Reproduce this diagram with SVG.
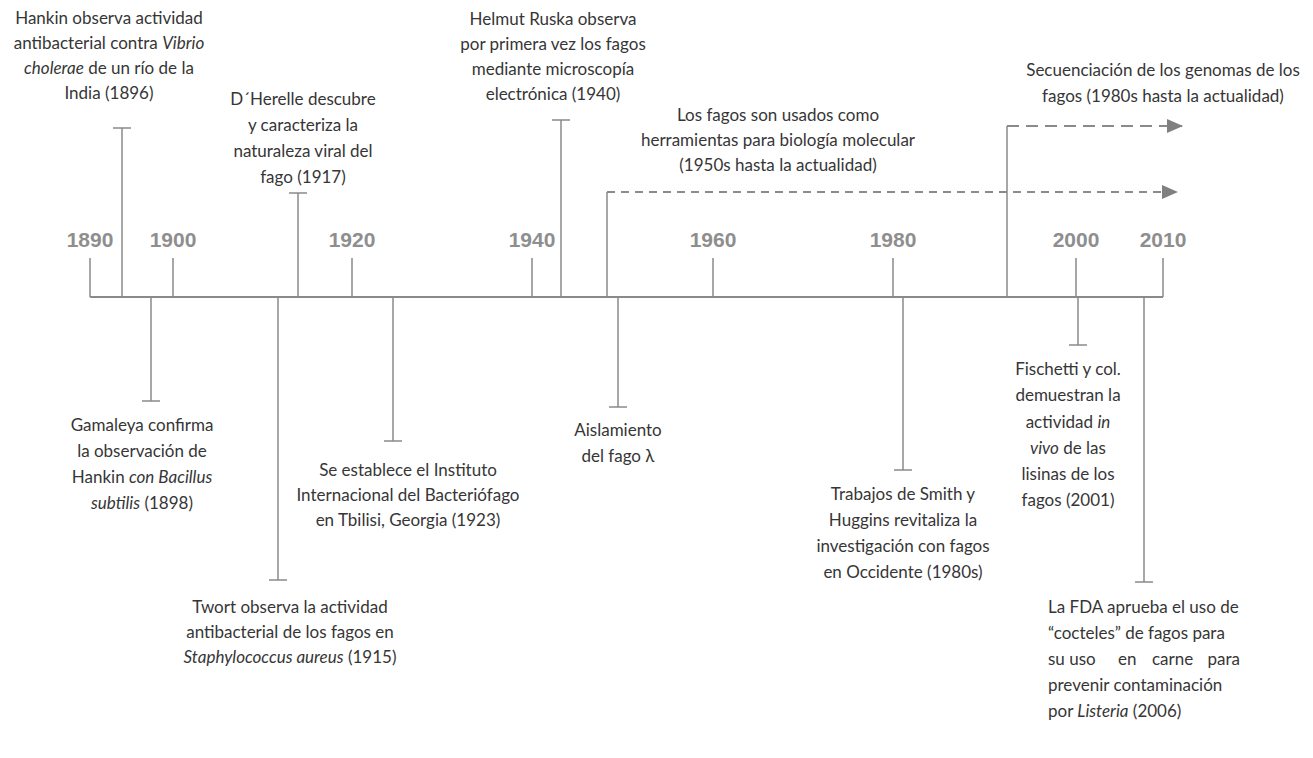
<svg xmlns="http://www.w3.org/2000/svg" width="1313" height="758" viewBox="0 0 1313 758">
<style>
  .t{font-family:Lato,"Open Sans","Liberation Sans",sans-serif;font-size:17px;fill:#363636;text-anchor:middle}
  .l{text-anchor:start}
  .e{text-anchor:end}
  .i{font-style:italic}
  .yr{font-family:"Liberation Sans",Arial,sans-serif;font-size:21px;font-weight:bold;fill:#8e8e8e;text-anchor:middle}
  .ln{stroke:#8a8a8a;stroke-width:1.5;fill:none}
  .ax{stroke:#8a8a8a;stroke-width:2;fill:none}
  .d1{stroke:#8a8a8a;stroke-width:2;fill:none;stroke-dasharray:12 7}
  .d2{stroke:#8a8a8a;stroke-width:2;fill:none;stroke-dasharray:8 6}
</style>
<defs>
  <marker id="arr" markerWidth="16" markerHeight="14" refX="15" refY="7" orient="auto" markerUnits="userSpaceOnUse" viewBox="0 0 16 14">
    <path d="M0,0 L16,7 L0,14 z" fill="#808080"/>
  </marker>
</defs>
<rect width="1313" height="758" fill="#ffffff"/>

<g id="axis">
  <line class="ax" x1="90" y1="297" x2="1163" y2="297"/>
  <g class="ln">
    <line x1="90" y1="258" x2="90" y2="297"/>
    <line x1="173" y1="258" x2="173" y2="297"/>
    <line x1="352" y1="258" x2="352" y2="297"/>
    <line x1="532" y1="258" x2="532" y2="297"/>
    <line x1="713" y1="258" x2="713" y2="297"/>
    <line x1="893" y1="258" x2="893" y2="297"/>
    <line x1="1076" y1="258" x2="1076" y2="297"/>
    <line x1="1163" y1="258" x2="1163" y2="297"/>
  </g>
  <text class="yr" x="90" y="247">1890</text>
  <text class="yr" x="173" y="247">1900</text>
  <text class="yr" x="352" y="247">1920</text>
  <text class="yr" x="532" y="247">1940</text>
  <text class="yr" x="713" y="247">1960</text>
  <text class="yr" x="893" y="247">1980</text>
  <text class="yr" x="1076" y="247">2000</text>
  <text class="yr" x="1163" y="247">2010</text>
</g>

<g id="connectors" class="ln">
  <path d="M122,297 V128 M113,128 H131"/>
  <path d="M298,297 V193 M289,193 H307"/>
  <path d="M561,297 V120 M552,120 H570"/>
  <path d="M607,297 V192"/>
  <path d="M1007,297 V126"/>
  <path d="M151,297 V401 M142,401 H160"/>
  <path d="M278,297 V580 M269,580 H287"/>
  <path d="M393,297 V441 M384,441 H402"/>
  <path d="M618,297 V407 M609,407 H627"/>
  <path d="M903,297 V470 M894,470 H912"/>
  <path d="M1078,297 V345 M1069,345 H1087"/>
  <path d="M1144,297 V582 M1135,582 H1153"/>
  <line class="d2" x1="607" y1="192" x2="1177" y2="192" marker-end="url(#arr)"/>
  <line class="d1" x1="1007" y1="126" x2="1182" y2="126" marker-end="url(#arr)"/>
</g>

<g id="hankin">
  <text class="t" x="109" y="24">Hankin observa actividad</text>
  <text class="t" x="109" y="49">antibacterial contra <tspan class="i">Vibrio</tspan></text>
  <text class="t" x="109" y="74"><tspan class="i">cholerae</tspan> de un río de la</text>
  <text class="t" x="109" y="99">India (1896)</text>
</g>
<g id="dherelle">
  <text class="t" x="303" y="105">D´Herelle descubre</text>
  <text class="t" x="303" y="131">y caracteriza la</text>
  <text class="t" x="303" y="157">naturaleza viral del</text>
  <text class="t" x="303" y="183">fago (1917)</text>
</g>
<g id="ruska">
  <text class="t" x="553" y="25">Helmut Ruska observa</text>
  <text class="t" x="553" y="50">por primera vez los fagos</text>
  <text class="t" x="553" y="75">mediante microscopía</text>
  <text class="t" x="553" y="100">electrónica (1940)</text>
</g>
<g id="herramientas">
  <text class="t" x="778" y="121">Los fagos son usados como</text>
  <text class="t" x="778" y="146">herramientas para biología molecular</text>
  <text class="t" x="778" y="171">(1950s hasta la actualidad)</text>
</g>
<g id="secuenciacion">
  <text class="t" x="1163" y="76">Secuenciación de los genomas de los</text>
  <text class="t" x="1163" y="102">fagos (1980s hasta la actualidad)</text>
</g>
<g id="gamaleya">
  <text class="t" x="142" y="431">Gamaleya confirma</text>
  <text class="t" x="142" y="457">la observación de</text>
  <text class="t" x="142" y="483">Hankin <tspan class="i">con Bacillus</tspan></text>
  <text class="t" x="142" y="509"><tspan class="i">subtilis</tspan> (1898)</text>
</g>
<g id="twort">
  <text class="t" x="290" y="613">Twort observa la actividad</text>
  <text class="t" x="290" y="638">antibacterial de los fagos en</text>
  <text class="t" x="290" y="663"><tspan class="i">Staphylococcus aureus</tspan> (1915)</text>
</g>
<g id="instituto">
  <text class="t" x="408" y="476">Se establece el Instituto</text>
  <text class="t" x="408" y="501">Internacional del Bacteriófago</text>
  <text class="t" x="408" y="526">en Tbilisi, Georgia (1923)</text>
</g>
<g id="lambda">
  <text class="t" x="618" y="436">Aislamiento</text>
  <text class="t" x="618" y="462">del fago λ</text>
</g>
<g id="smith">
  <text class="t" x="903" y="500">Trabajos de Smith y</text>
  <text class="t" x="903" y="526">Huggins revitaliza la</text>
  <text class="t" x="903" y="552">investigación con fagos</text>
  <text class="t" x="903" y="578">en Occidente (1980s)</text>
</g>
<g id="fischetti">
  <text class="t" x="1068" y="375">Fischetti y col.</text>
  <text class="t" x="1068" y="401">demuestran la</text>
  <text class="t" x="1068" y="428">actividad <tspan class="i">in</tspan></text>
  <text class="t" x="1068" y="454"><tspan class="i">vivo</tspan> de las</text>
  <text class="t" x="1068" y="480">lisinas de los</text>
  <text class="t" x="1068" y="506">fagos (2001)</text>
</g>
<g id="fda">
  <text class="t l" x="1048" y="613">La FDA aprueba el uso de</text>
  <text class="t l" x="1048" y="639">“cocteles”  de fagos para</text>
  <text class="t l" x="1048" y="665">su uso</text>
  <text class="t l" x="1118" y="665">en</text>
  <text class="t l" x="1152" y="665">carne</text>
  <text class="t e" x="1240" y="665">para</text>
  <text class="t l" x="1048" y="691">prevenir contaminación</text>
  <text class="t l" x="1048" y="717">por <tspan class="i">Listeria</tspan> (2006)</text>
</g>
</svg>
